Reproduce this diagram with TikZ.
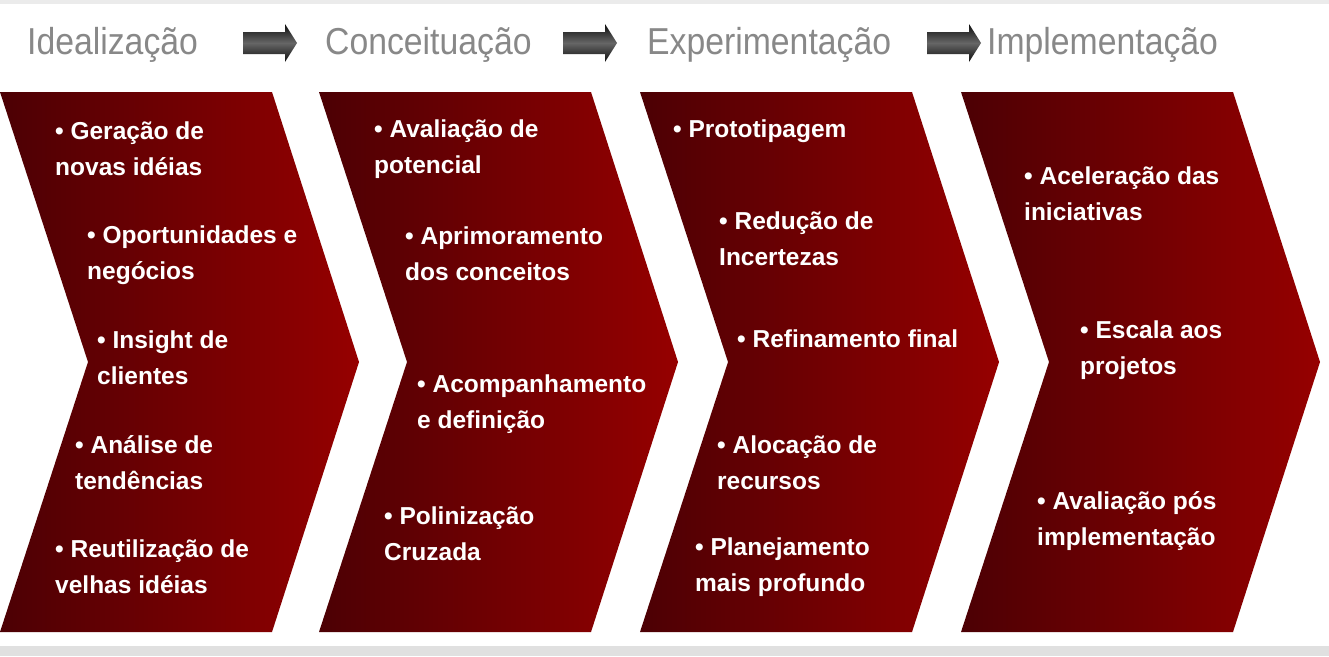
\documentclass[tikz,border=0pt]{standalone}
\usepackage{fontspec}
\setmainfont{Liberation Sans}
\newfontfamily\headfont{Liberation Sans}[FakeStretch=0.9]
\usetikzlibrary{positioning}
\definecolor{chevdark}{RGB}{76,0,4}
\definecolor{chevlight}{RGB}{150,0,0}
\definecolor{headgray}{RGB}{136,136,136}
\newcommand{\stagechev}[1]{%
  \shade[left color=chevdark,right color=chevlight]
    (#1,92) -- ++(272,0) -- ++(87,270) -- ++(-87,270) -- ++(-272,0)
    -- ++(88,-270) -- cycle;}
\newcommand{\headarrow}[1]{%
  \shade[top color=black!95,bottom color=black!95,middle color=black!60]
    (#1,32) -- ++(42,0) -- ++(0,-8) -- ++(12,19) -- ++(-12,19)
    -- ++(0,-8) -- ++(-42,0) -- cycle;}
\newcommand{\pitem}[4]{%
  \node[itemtext] (#1) at (#2,#3) {#4};}

\begin{document}
\begin{tikzpicture}[x=1pt,y=-1pt,
    headtext/.style={anchor=west,inner sep=0pt,text=headgray,
      font=\headfont\fontsize{37.5}{40}\selectfont},
    itemtext/.style={anchor=west,inner sep=0pt,text=white,align=left,
      font=\bfseries\fontsize{24.5}{36}\selectfont}]
  \useasboundingbox (0,0) rectangle (1329,656);
  \fill[white] (0,0) rectangle (1329,656);
  \fill[black!8] (0,0) rectangle (1329,4);
  \fill[black!12] (0,646) rectangle (1329,656);
  % stage titles
  \node[headtext] (ideal) at (27,45) {Idealização};
  \node[headtext] (conc) at (325,45) {Conceituação};
  \node[headtext] (expe) at (647,45) {Experimentação};
  \node[headtext] (impl) at (987,45) {Implementação};
  \headarrow{243}
  \headarrow{563}
  \headarrow{927}
  % chevrons
  \stagechev{0}
  \stagechev{319}
  \stagechev{640}
  \stagechev{961}
  % first stage
  \pitem{ia}{55}{149}{• Geração de\\novas idéias}
  \pitem{ib}{87}{255}{• Oportunidades e\\negócios}
  \pitem{ic}{97}{358}{• Insight de\\clientes}
  \pitem{id}{75}{463}{• Análise de\\tendências}
  \pitem{ie}{55}{567}{• Reutilização de\\velhas idéias}
  % second stage
  \pitem{ca}{374}{149}{• Avaliação de\\potencial}
  \pitem{cb}{405}{254}{• Aprimoramento\\dos conceitos}
  \pitem{cc}{417}{404}{• Acompanhamento\\e definição}
  \pitem{cd}{384}{534}{• Polinização\\Cruzada}
  % third stage
  \pitem{ea}{673}{131}{• Prototipagem}
  \pitem{eb}{719}{239}{• Redução de\\Incertezas}
  \pitem{ec}{737}{339}{• Refinamento final}
  \pitem{ed}{717}{463}{• Alocação de\\recursos}
  \pitem{ee}{695}{567}{• Planejamento\\mais profundo}
  % fourth stage
  \pitem{ma}{1024}{194}{• Aceleração das\\iniciativas}
  \pitem{mb}{1080}{350}{• Escala aos\\projetos}
  \pitem{mc}{1037}{521}{• Avaliação pós\\implementação}
\end{tikzpicture}
\end{document}
